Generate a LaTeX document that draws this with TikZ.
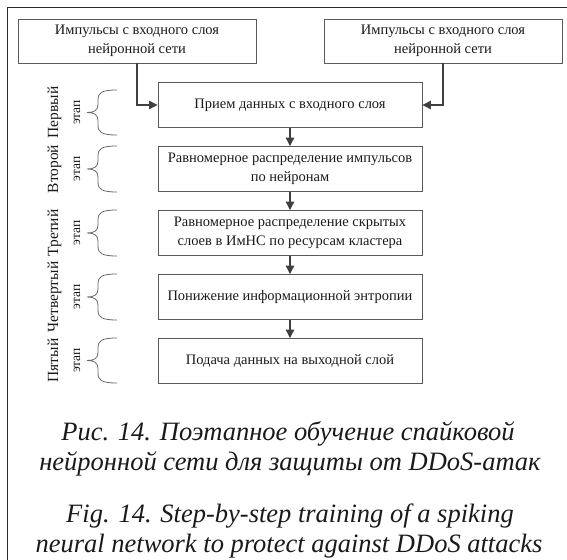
\documentclass[tikz,border=0pt]{standalone}
\usepackage{fontspec}
\setmainfont{Liberation Serif}
\usetikzlibrary{arrows.meta}

\definecolor{boxgray}{HTML}{5A5A5A}
\definecolor{arrgray}{HTML}{404040}
\definecolor{bracegray}{HTML}{6A6A6A}
\definecolor{framecol}{HTML}{2A2A2A}
\definecolor{inkcol}{HTML}{1A1A1A}

\begin{document}
\begin{tikzpicture}[x=1pt,y=-1pt,
  stepbox/.style={draw=boxgray, line width=0.9pt, minimum width=264pt,
    minimum height=45pt, align=center, inner sep=0pt, text=inkcol,
    font=\fontsize{14.5}{19.5}\selectfont},
  inbox/.style={stepbox, minimum width=238pt, minimum height=44pt},
  flow/.style={draw=arrgray, line width=1.1pt,
    -{Triangle[length=8.5pt,width=8.5pt]}},
  bracecol/.style={draw=bracegray, line width=0.8pt},
  stagelbl/.style={rotate=90, align=center, inner sep=0pt, text=inkcol,
    font=\fontsize{15.5}{22}\selectfont},
  captionline/.style={font=\fontsize{26.5}{30}\selectfont\itshape,
    inner sep=0pt, anchor=base, text=inkcol}
]
\useasboundingbox (0,0) rectangle (567,559);
\clip (0,0) rectangle (567,559);

% outer frame (only its top and left sides fall inside the page)
\draw[framecol, line width=1.3pt] (7.5,7.5) rectangle (600,600);

% input boxes
\node[inbox] (inL) at (137,41) {Импульсы с входного слоя\\нейронной сети};
\node[inbox] (inR) at (443,41) {Импульсы с входного слоя\\нейронной сети};

% stage boxes
\node[stepbox] (b1) at (290,105) {Прием данных с входного слоя};
\node[stepbox] (b2) at (290,169) {Равномерное распределение импульсов\\по нейронам};
\node[stepbox] (b3) at (290,233) {Равномерное распределение скрытых\\слоев в ИмНС по ресурсам кластера};
\node[stepbox] (b4) at (290,297) {Понижение информационной энтропии};
\node[stepbox] (b5) at (290,361) {Подача данных на выходной слой};

% connectors
\draw[flow] (inL.south) |- (b1.west);
\draw[flow] (inR.south) |- (b1.east);
\draw[flow] (b1.south) -- (b2.north);
\draw[flow] (b2.south) -- (b3.north);
\draw[flow] (b3.south) -- (b4.north);
\draw[flow] (b4.south) -- (b5.north);

% braces marking the stages
\foreach \t/\b in {90/135,146/192,210/256,274/320,338/383}{
  \pgfmathsetmacro\m{(\t+\b)/2}
  \draw[bracecol] (117,\t) .. controls (101,\t) and (98,\t+3) .. (98,\t+10)
    -- (98,\m-8) .. controls (98,\m-2) and (94,\m) .. (87,\m)
    .. controls (94,\m) and (98,\m+2) .. (98,\m+8)
    -- (98,\b-10) .. controls (98,\b-3) and (101,\b) .. (117,\b);
}

% stage labels
\newcommand\etapword{{\fontsize{13.5}{22}\selectfont этап}}
\node[stagelbl] (s1) at (64,112.5) {Первый\\\etapword};
\node[stagelbl] (s2) at (64,169) {Второй\\\etapword};
\node[stagelbl] (s3) at (64,233) {Третий\\\etapword};
\node[stagelbl] (s4) at (64,297) {Четвертый\\\etapword};
\node[stagelbl] (s5) at (64,360.5) {Пятый\\\etapword};

% caption
\node[captionline] (cap1) at (288,440) {Рис. 14. Поэтапное обучение спайковой};
\node[captionline] (cap2) at (290,470) {нейронной сети для защиты от DDoS-атак};
\node[captionline] (cap3) at (290,522) {Fig. 14. Step-by-step training of a spiking};
\node[captionline] (cap4) at (289,552) {neural network to protect against DDoS attacks};
\end{tikzpicture}
\end{document}
